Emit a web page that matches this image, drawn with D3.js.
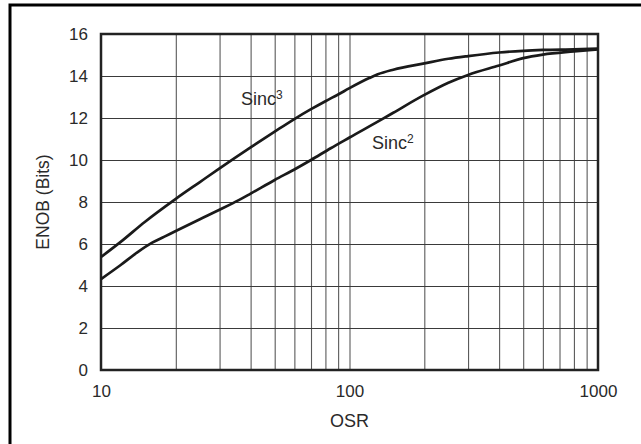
<!DOCTYPE html>
<html>
<head>
<meta charset="utf-8">
<script src="https://cdn.jsdelivr.net/npm/d3@7"></script>
<style>
  body { margin: 0; background: #fff; }
  svg text { font-family: 'Liberation Sans', Arial, sans-serif; fill: #2a2a2a; }
</style>
</head>
<body>
<svg id="chart" width="641" height="444"></svg>
<script>
// data
var osr3 = [ 10, 12, 15, 20, 25, 30, 40, 50, 60, 70, 80, 90, 100, 120, 130, 150, 200, 250, 300, 400, 500, 600, 800, 1000 ];
var sinc3 = [ 5.38, 6.1, 7.05, 8.15, 8.95, 9.6, 10.6, 11.35, 11.95, 12.42, 12.8, 13.12, 13.42, 13.9, 14.08, 14.3, 14.6, 14.82, 14.95, 15.12, 15.2, 15.24, 15.27, 15.3 ];

var osr2 = [ 10, 12, 14, 16, 18, 20, 25, 30, 36, 40, 50, 60, 70, 84, 100, 137, 150, 200, 250, 300, 400, 500, 600, 800, 1000 ];
var sinc2 = [ 4.33, 5.0, 5.6, 6.05, 6.35, 6.62, 7.18, 7.63, 8.1, 8.4, 9.05, 9.55, 10.0, 10.56, 11.07, 11.98, 12.25, 13.1, 13.68, 14.05, 14.5, 14.85, 15.02, 15.17, 15.27 ];

var yTicks = [ 0, 2, 4, 6, 8, 10, 12, 14, 16 ];
var xLabelTicks = [ 10, 100, 1000 ];
var xGridTicks = [ 20, 30, 40, 50, 60, 70, 80, 90, 100, 200, 300, 400, 500, 600, 700, 800, 900 ];

var plotL = 101, plotR = 598, plotT = 34, plotB = 370;
var w = plotR - plotL, h = plotB - plotT;

var svg = d3.select( '#chart' );

// outer frame (only top and left edges show)
svg.append( 'rect' )
	.attr( 'x', 10 ).attr( 'y', 5 )
	.attr( 'width', 800 ).attr( 'height', 600 )
	.attr( 'fill', 'none' )
	.attr( 'stroke', '#000' )
	.attr( 'stroke-width', 3 );

var x = d3.scaleLog().domain( [ 10, 1000 ] ).range( [ plotL, plotR ] );
var y = d3.scaleLinear().domain( [ 0, 16 ] ).range( [ plotB, plotT ] );

// grid
var gx = svg.append( 'g' )
	.attr( 'transform', 'translate(0,' + plotB + ')' )
	.call( d3.axisBottom( x ).tickValues( xGridTicks ).tickSize( -h ).tickFormat( '' ) );
gx.select( '.domain' ).remove();
gx.selectAll( 'line' ).attr( 'stroke', '#5a5a5a' ).attr( 'stroke-width', 1.1 );

var gy = svg.append( 'g' )
	.attr( 'transform', 'translate(' + plotL + ',0)' )
	.call( d3.axisLeft( y ).tickValues( yTicks.slice( 1, -1 ) ).tickSize( -w ).tickFormat( '' ) );
gy.select( '.domain' ).remove();
gy.selectAll( 'line' ).attr( 'stroke', '#3a3a3a' ).attr( 'stroke-width', 1.1 );

// tick labels
var ay = svg.append( 'g' )
	.attr( 'transform', 'translate(' + plotL + ',0)' )
	.call( d3.axisLeft( y ).tickValues( yTicks ).tickSize( 0 ).tickPadding( 13 ) );
ay.select( '.domain' ).remove();
ay.selectAll( 'text' ).attr( 'font-size', '17px' ).attr( 'font-family', null ).style( 'fill', '#2a2a2a' );

var ax = svg.append( 'g' )
	.attr( 'transform', 'translate(0,' + plotB + ')' )
	.call( d3.axisBottom( x ).tickValues( xLabelTicks ).tickSize( 0 ).tickPadding( 15 ).tickFormat( d3.format( 'd' ) ) );
ax.select( '.domain' ).remove();
ax.selectAll( 'text' ).attr( 'font-size', '17px' ).attr( 'font-family', null ).style( 'fill', '#2a2a2a' );

// plot frame
svg.append( 'rect' )
	.attr( 'x', plotL ).attr( 'y', plotT )
	.attr( 'width', w ).attr( 'height', h )
	.attr( 'fill', 'none' )
	.attr( 'stroke', '#222' )
	.attr( 'stroke-width', 2.5 );

// curves
var line = d3.line()
	.x( function( d ) { return x( d[ 0 ] ); } )
	.y( function( d ) { return y( d[ 1 ] ); } )
	.curve( d3.curveMonotoneX );

svg.append( 'path' )
	.datum( d3.zip( osr3, sinc3 ) )
	.attr( 'd', line )
	.attr( 'fill', 'none' )
	.attr( 'stroke', '#1a1a1a' )
	.attr( 'stroke-width', 2.7 );

svg.append( 'path' )
	.datum( d3.zip( osr2, sinc2 ) )
	.attr( 'd', line )
	.attr( 'fill', 'none' )
	.attr( 'stroke', '#1a1a1a' )
	.attr( 'stroke-width', 2.7 );

// curve labels
function curveLabel( px, py, sup ) {
	var t = svg.append( 'text' )
		.attr( 'x', px ).attr( 'y', py )
		.attr( 'font-size', '18px' );
	t.append( 'tspan' ).text( 'Sinc' );
	t.append( 'tspan' ).attr( 'dy', -6 ).attr( 'font-size', '12px' ).text( sup );
}
curveLabel( 241, 105, '3' );
curveLabel( 372, 149, '2' );

// axis titles
svg.append( 'text' )
	.attr( 'x', ( plotL + plotR ) / 2 ).attr( 'y', 427 )
	.attr( 'text-anchor', 'middle' )
	.attr( 'font-size', '18px' )
	.text( 'OSR' );

svg.append( 'text' )
	.attr( 'transform', 'translate(49,' + ( ( plotT + plotB ) / 2 ) + ') rotate(-90)' )
	.attr( 'text-anchor', 'middle' )
	.attr( 'font-size', '17.5px' )
	.text( 'ENOB (Bits)' );
</script>
</body>
</html>
